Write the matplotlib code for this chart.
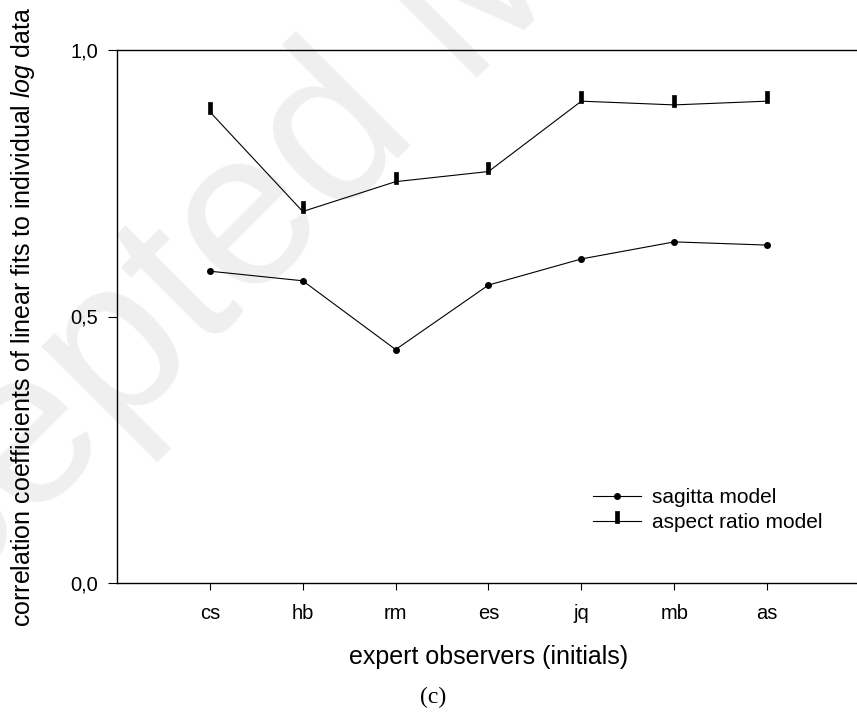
import numpy as np
import matplotlib
matplotlib.use("Agg")
import matplotlib.pyplot as plt
from matplotlib.path import Path

plt.rcParams['font.family'] = ['Liberation Sans', 'DejaVu Sans']
plt.rcParams['mathtext.fontset'] = 'custom'
plt.rcParams['mathtext.rm'] = 'Liberation Sans'
plt.rcParams['mathtext.it'] = 'Liberation Sans:italic'

# observers and correlation values
observers = ['cs', 'hb', 'rm', 'es', 'jq', 'mb', 'as']
sagitta = [0.585, 0.567, 0.438, 0.559, 0.608, 0.640, 0.634]
aspect = [0.884, 0.697, 0.753, 0.772, 0.904, 0.897, 0.904]
yticks = [0.0, 0.5, 1.0]
ytick_labels = ['0,0', '0,5', '1,0']

x = np.arange(1, len(observers) + 1)

# small vertical bar marker sitting on the data point
bar_marker = Path([(-0.2, -0.15), (0.2, -0.15), (0.2, 0.85), (-0.2, 0.85), (-0.2, -0.15)],
                  [Path.MOVETO, Path.LINETO, Path.LINETO, Path.LINETO, Path.CLOSEPOLY])

fig = plt.figure(figsize=(8.57, 7.13), dpi=100)

# faint watermark behind everything
fig.text(-0.274, -0.107, 'Accepted Manuscript', fontsize=160, color='#efefef',
         rotation=45, rotation_mode='anchor', ha='left', va='baseline', zorder=-1)

ax = fig.add_axes([117 / 857, 1 - 583 / 713, 743 / 857, 533 / 713])
ax.patch.set_alpha(0)

ax.plot(x, sagitta, color='black', lw=0.8, marker='o', ms=4, label='sagitta model')
ax.plot(x, aspect, color='black', lw=0.8, marker=bar_marker, ms=14, mec='black', mfc='black',
        mew=0.5, label='aspect ratio model')

ax.set_xlim(0, 8)
ax.set_ylim(0, 1)
ax.set_xticks(x)
ax.set_xticklabels(observers)
ax.set_yticks(yticks)
ax.set_yticklabels(ytick_labels)

ax.spines['right'].set_visible(False)
for s in ['left', 'top', 'bottom']:
    ax.spines[s].set_linewidth(1.0)

ax.tick_params(axis='y', direction='out', length=6.5, width=0.8, pad=7, labelsize=14.5)
ax.tick_params(axis='x', direction='out', length=5, width=0.8, pad=10, labelsize=14.5)

ax.set_ylabel('correlation coefficients of linear fits to individual $\\mathit{log}$ data',
              fontsize=18, labelpad=24)
ax.set_xlabel('expert observers (initials)', fontsize=18, labelpad=16)

ax.legend(loc='center left', bbox_to_anchor=(593 / 857, 1 - 510 / 713),
          bbox_transform=fig.transFigure, frameon=False, fontsize=15,
          numpoints=1, handlelength=2.3, handletextpad=0.55, labelspacing=0.3,
          borderpad=0, borderaxespad=0)

fig.text(433 / 857, 1 - 697 / 713, '(c)', fontsize=17, family='Liberation Serif',
         ha='center', va='center')

fig.savefig('out.png', dpi=100)
